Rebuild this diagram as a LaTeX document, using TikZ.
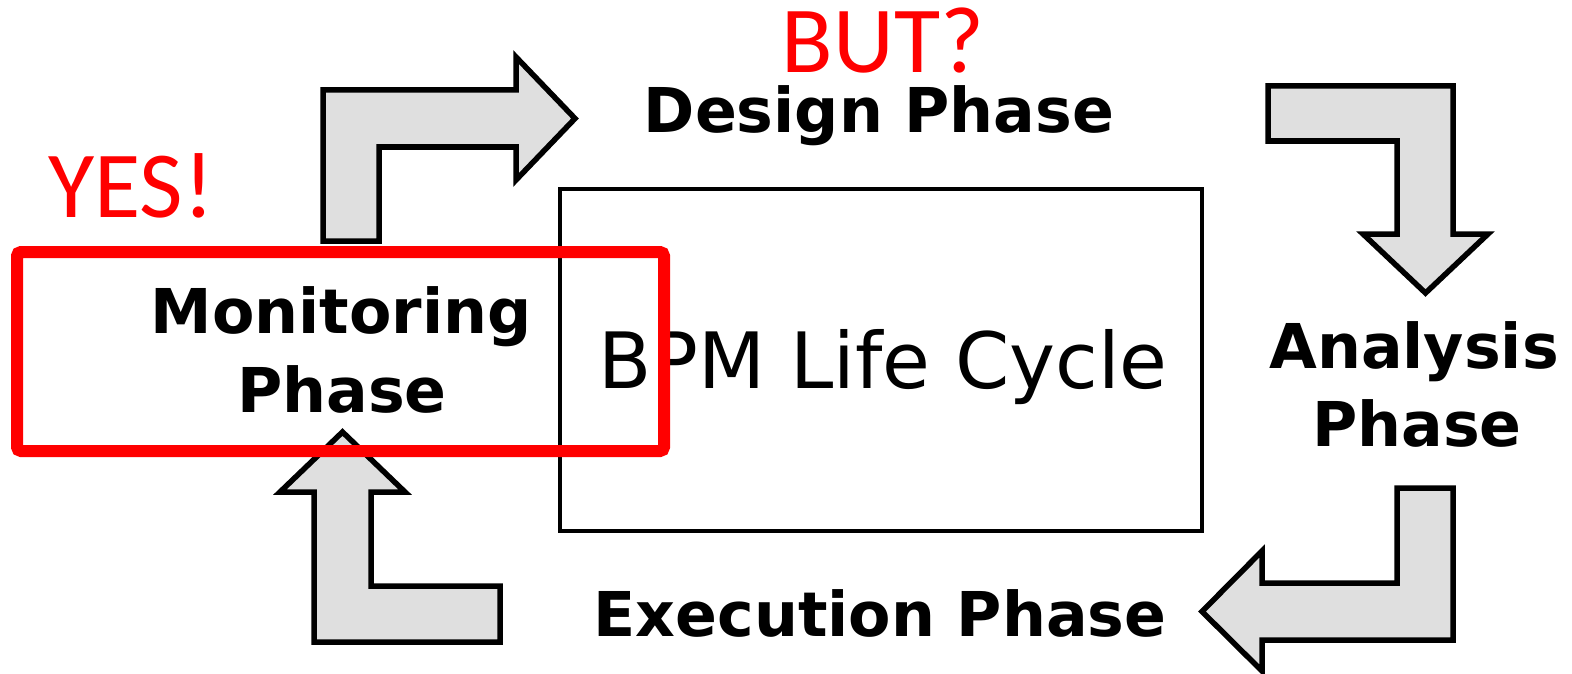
\documentclass[tikz,border=0pt]{standalone}
\usepackage{fontspec}
\setmainfont{DejaVu Sans}
\newfontfamily\redfont{Carlito}
\begin{document}
\begin{tikzpicture}[x=1bp,y=-1bp,
  blockarrow/.style={draw=black,fill=arrowgray,line width=5.5bp,line join=miter},
  centerbox/.style={draw=black,line width=4.5bp},
  phase/.style={inner sep=0pt,anchor=base,font=\fontsize{62}{62}\selectfont\bfseries},
  remark/.style={inner sep=0pt,anchor=base,text depth=0pt,text=red,font=\fontsize{95}{95}\selectfont\redfont},
  highlight/.style={draw=red,line width=12bp,rounded corners=4bp}]
\definecolor{arrowgray}{HTML}{DFDFDF}
\useasboundingbox (0,0) rectangle (1572,674);
% central box
\draw[centerbox] (560,189) rectangle (1202,531);
\node[inner sep=0pt,anchor=base,font=\fontsize{78}{78}\selectfont] (bpm) at (883,388) {BPM Life Cycle};
% block arrows
\draw[blockarrow] (323,241) -- (323,90) -- (516,90) -- (516,57) -- (575,118.5) -- (516,180) -- (516,147) -- (379,147) -- (379,241) -- cycle;
\draw[blockarrow] (1268,86) -- (1453,86) -- (1453,234) -- (1488,234) -- (1425.5,293) -- (1363,234) -- (1397,234) -- (1397,141) -- (1268,141) -- cycle;
\draw[blockarrow] (1453,488) -- (1453,640) -- (1262,640) -- (1262,671) -- (1202,611.5) -- (1262,551) -- (1262,583) -- (1397,583) -- (1397,488) -- cycle;
\draw[blockarrow] (342.5,432) -- (405,492) -- (371,492) -- (371,586) -- (500,586) -- (500,642) -- (314,642) -- (314,492) -- (280,492) -- cycle;
% phase labels
\node[phase] (design) at (879,133) {Design Phase};
\node[phase] (monitoring1) at (341,333) {Monitoring};
\node[phase] (monitoring2) at (342,412) {Phase};
\node[phase] (analysis1) at (1414,368) {Analysis};
\node[phase] (analysis2) at (1417,446) {Phase};
\node[phase] (execution) at (880,636) {Execution Phase};
% remarks
\node[remark] (yes) at (131,217) {YES!};
\node[remark] (but) at (883,73) {BUT?};
\draw[highlight] (17,252) rectangle (664,451);
\end{tikzpicture}
\end{document}
